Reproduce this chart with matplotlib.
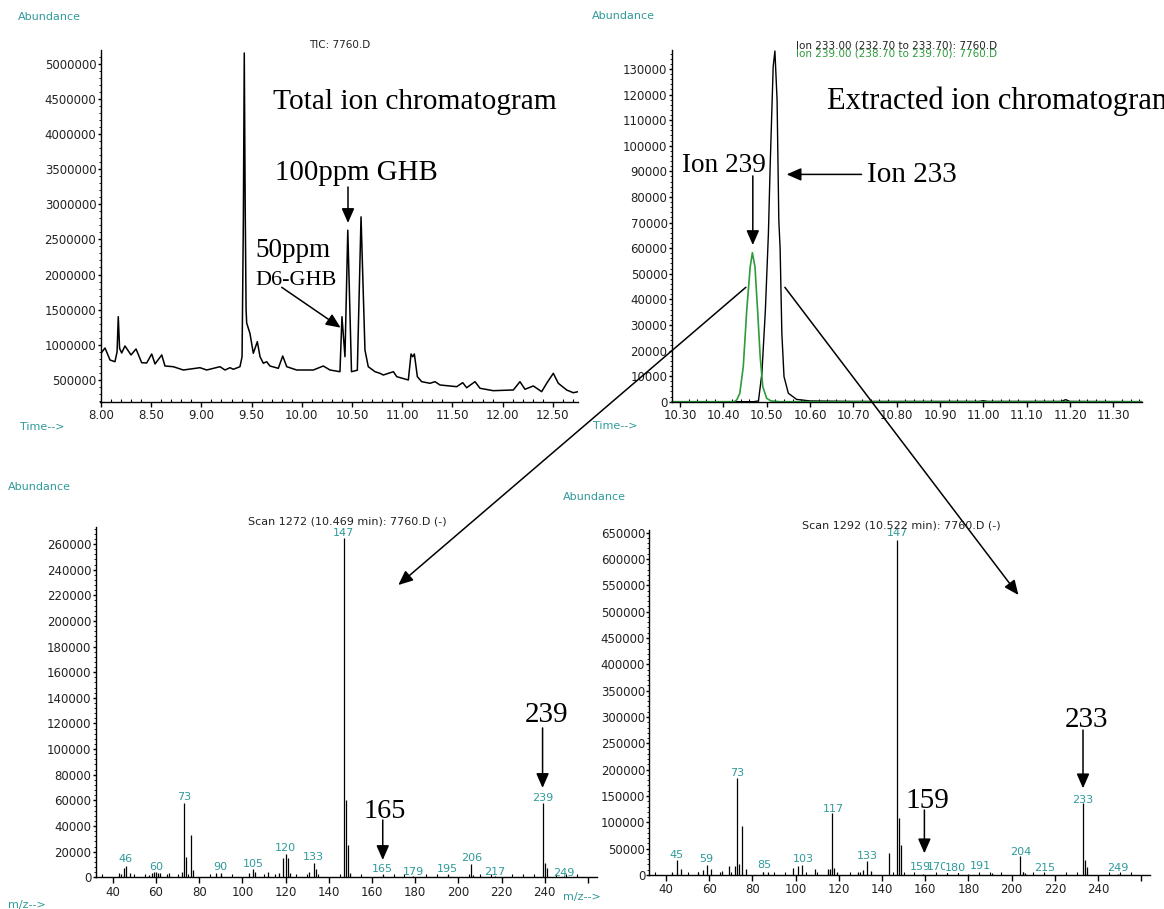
import matplotlib
matplotlib.use('Agg')
import matplotlib.pyplot as plt
from matplotlib.patches import ConnectionPatch
from matplotlib.ticker import MultipleLocator, FormatStrFormatter, FuncFormatter

# ---------------- data ----------------
tic_t = [8.000, 8.040, 8.090, 8.139, 8.160, 8.172, 8.185, 8.206, 8.239, 8.299, 8.349, 8.405,
         8.455, 8.505, 8.538, 8.605, 8.637, 8.720, 8.820, 8.986, 9.053, 9.185, 9.235, 9.285,
         9.318, 9.384, 9.405, 9.418, 9.427, 9.436, 9.445, 9.451, 9.484, 9.517, 9.557, 9.584,
         9.617, 9.650, 9.683, 9.766, 9.810, 9.850, 9.949, 10.115, 10.214, 10.281, 10.380,
         10.400, 10.430, 10.458, 10.495, 10.553, 10.590, 10.629, 10.662, 10.729, 10.779,
         10.812, 10.912, 10.946, 11.061, 11.088, 11.105, 11.121, 11.151, 11.194, 11.277,
         11.327, 11.376, 11.543, 11.603, 11.642, 11.725, 11.775, 11.907, 12.107, 12.173,
         12.223, 12.306, 12.389, 12.439, 12.505, 12.555, 12.638, 12.704, 12.754]
tic_ab = [880000, 955000, 784000, 760000, 900000, 1400000, 950000, 884000, 984000, 856000,
          941000, 746000, 742000, 870000, 728000, 856000, 699000, 689000, 642000, 675000,
          642000, 689000, 642000, 675000, 652000, 689000, 831000, 2800000, 5150000, 3000000,
          1500000, 1310000, 1160000, 880000, 1045000, 831000, 738000, 760000, 699000, 666000,
          841000, 689000, 642000, 642000, 699000, 642000, 618000, 1400000, 831000, 2630000,
          618000, 639000, 2820000, 927000, 689000, 618000, 595000, 571000, 618000, 547000,
          500000, 870000, 831000, 870000, 547000, 476000, 453000, 476000, 429000, 405000,
          462000, 390000, 476000, 382000, 348000, 358000, 476000, 368000, 415000, 334000,
          453000, 595000, 453000, 358000, 319000, 334000]

eic233_t = [10.281, 10.470, 10.481, 10.489, 10.497, 10.504, 10.508, 10.515, 10.519, 10.524,
            10.528, 10.531, 10.535, 10.540, 10.550, 10.569, 10.600, 10.700, 10.990, 11.000,
            11.010, 11.180, 11.190, 11.200, 11.365]
eic233_ab = [0, 0, 300, 11100, 35800, 65800, 91800, 130900, 137000, 117800, 70900, 60000,
             26700, 9800, 3300, 900, 300, 100, 100, 400, 100, 100, 800, 100, 0]
eic239_t = [10.281, 10.425, 10.431, 10.438, 10.446, 10.454, 10.462, 10.467, 10.473, 10.479,
            10.485, 10.491, 10.500, 10.510, 10.530, 11.365]
eic239_ab = [0, 0, 700, 3300, 13700, 35800, 52700, 58200, 52700, 35800, 17600, 5900, 1300,
             300, 0, 0]

ms1_mz = [43, 44, 45, 46, 48, 57, 58, 59, 60, 61, 62, 66, 72, 73, 74, 76, 77, 88, 90, 103,
          105, 106, 112, 117, 119, 120, 121, 122, 131, 133, 134, 147, 148, 149, 150, 165, 170,
          179, 195, 206, 207, 217, 239, 240, 241, 249]
ms1_ab = [3000, 2500, 7000, 8800, 3100, 2000, 3500, 4000, 4500, 3500, 3000, 3000, 4400, 58200,
          15600, 33000, 5700, 3000, 3000, 3600, 6200, 4400, 4400, 3000, 14800, 18200, 14800,
          3000, 4400, 10900, 6200, 264400, 60300, 25200, 3000, 1500, 1000, 1200, 1500, 10100,
          2000, 1200, 57700, 10900, 7000, 1200]
ms1_lbl = ['46', '60', '73', '90', '105', '120', '133', '147', '165', '179', '195', '206',
           '217', '239', '249']
ms1_lbl_x = [46, 60, 73, 90, 105, 120, 133, 147, 165, 179, 195, 206, 217, 239, 249]
ms1_lbl_y = [14000, 8300, 62400, 7800, 10400, 22600, 16100, 268800, 6200, 4400, 6200, 14800,
             4400, 62100, 3600]

ms2_mz = [43, 45, 47, 55, 57, 59, 61, 66, 69, 72, 73, 74, 75, 77, 85, 87, 99, 101, 103, 109,
          115, 116, 117, 118, 119, 129, 131, 133, 135, 143, 147, 148, 149, 159, 170, 180, 191,
          204, 205, 206, 215, 233, 234, 235, 249]
ms2_ab = [6300, 28500, 10800, 6300, 9500, 19000, 10800, 8000, 17100, 17100, 183600, 20300,
          93000, 10800, 6300, 5000, 12700, 17100, 19000, 10800, 10800, 12000, 117100, 12700,
          6300, 5000, 10000, 27200, 7000, 42400, 636000, 107700, 57000, 2500, 2000, 1500, 3500,
          36100, 5000, 3000, 1500, 136200, 28500, 15800, 1500]
ms2_lbl = ['45', '59', '73', '85', '103', '117', '133', '147', '159', '170', '180', '191',
           '204', '215', '233', '249']
ms2_lbl_x = [45, 58.8, 73, 85.3, 103.5, 117.4, 133, 147, 157.8, 165.4, 174.1, 185.6, 204.2,
             215.3, 233, 249.2]
ms2_lbl_y = [38000, 29800, 194300, 18400, 29800, 125300, 36700, 648900, 15200, 15200, 12700,
             16500, 44200, 12700, 142400, 13900]

# ---------------- layout ----------------
W, H = 1164, 909
plt.rcParams['font.family'] = ['DejaVu Sans']
fig = plt.figure(figsize=(W / 100, H / 100), dpi=100)
fig.patch.set_facecolor('white')

TEAL = '#2f9a9a'
GREEN = '#2e9b3c'
TXT = '#222222'
SERIF = ['Liberation Serif', 'DejaVu Serif']


def rect(l, t, r, b):
    return [l / W, 1 - b / H, (r - l) / W, (b - t) / H]


def ftext(x, y, s, **kw):
    fig.text(x / W, 1 - y / H, s, **kw)


def style(ax, xmaj, xmin, ymaj, ymin, xfmt):
    for s in ['top', 'right']:
        ax.spines[s].set_visible(False)
    for s in ['left', 'bottom']:
        ax.spines[s].set_linewidth(1.0)
    ax.xaxis.set_major_locator(MultipleLocator(xmaj))
    ax.xaxis.set_minor_locator(MultipleLocator(xmin))
    ax.yaxis.set_major_locator(MultipleLocator(ymaj))
    ax.yaxis.set_minor_locator(MultipleLocator(ymin))
    ax.xaxis.set_major_formatter(xfmt)
    ax.yaxis.set_major_formatter(FormatStrFormatter('%d'))
    ax.tick_params(axis='x', which='major', direction='out', length=3.5, width=1.0,
                   labelsize=8.5, pad=1.5, labelcolor=TXT)
    ax.tick_params(axis='x', which='minor', direction='in', length=2.5, width=0.8)
    ax.tick_params(axis='y', which='major', direction='out', length=2.5, width=1.0,
                   labelsize=8.5, pad=0.5, labelcolor=TXT)
    ax.tick_params(axis='y', which='minor', direction='out', length=1.8, width=0.6)
    ax.patch.set_alpha(0)


mz_fmt = FuncFormatter(lambda v, p: '' if v > 250 else '%d' % v)

arrow_kw = dict(arrowstyle='-|>,head_length=0.8,head_width=0.35', color='black', lw=1.1,
                mutation_scale=11, shrinkA=0, shrinkB=0)

# ---- TIC ----
ax1 = fig.add_axes(rect(100.5, 50, 578, 402))
ax1.plot(tic_t, tic_ab, color='black', lw=1.1)
ax1.set_xlim(7.995, 12.751)
ax1.set_ylim(187000, 5193000)
style(ax1, 0.5, 0.1, 500000, 100000, FormatStrFormatter('%.2f'))
ftext(18, 16.5, 'Abundance', color=TEAL, fontsize=8, va='center')
ftext(20, 427, 'Time-->', color=TEAL, fontsize=8, va='center')
ftext(340, 45, 'TIC: 7760.D', color=TXT, fontsize=7.5, ha='center', va='center')
ftext(273, 109, 'Total ion chromatogram', family=SERIF, fontsize=21.2, va='baseline')
ftext(275, 180, '100ppm GHB', family=SERIF, fontsize=20.8, va='baseline')
ftext(255, 257, '50ppm', family=SERIF, fontsize=19.5, va='baseline')
ftext(255, 285, 'D6-GHB', family=SERIF, fontsize=16, va='baseline')
ax1.annotate('', xy=(10.46, 2733000), xytext=(10.46, 3245000), arrowprops=arrow_kw,
             annotation_clip=False)
ax1.annotate('', xy=(10.387, 1244000), xytext=(9.800, 1818000), arrowprops=arrow_kw,
             annotation_clip=False)

# ---- EIC ----
ax2 = fig.add_axes(rect(671.7, 50, 1141.7, 401.7))
ax2.plot(eic233_t, eic233_ab, color='black', lw=1.0, clip_on=False)
ax2.plot(eic239_t, eic239_ab, color=GREEN, lw=1.2, clip_on=False)
ax2.set_xlim(10.2808, 11.3655)
ax2.set_ylim(0, 137400)
style(ax2, 0.1, 0.02, 10000, 2000, FormatStrFormatter('%.2f'))
ftext(592, 16, 'Abundance', color=TEAL, fontsize=8, va='center')
ftext(593, 426, 'Time-->', color=TEAL, fontsize=8, va='center')
ftext(796, 45, 'Ion 233.00 (232.70 to 233.70): 7760.D', color=TXT, fontsize=7.5, va='center')
ftext(796, 53.5, 'Ion 239.00 (238.70 to 239.70): 7760.D', color=GREEN, fontsize=7.5,
      va='center')
ftext(826.7, 109.5, 'Extracted ion chromatogram', family=SERIF, fontsize=22, va='baseline')
ftext(681.7, 172, 'Ion 239', family=SERIF, fontsize=19.6, va='baseline')
ftext(866.7, 182.5, 'Ion 233', family=SERIF, fontsize=21, va='baseline')
ax2.annotate('', xy=(10.468, 61200), xytext=(10.468, 88200), arrowprops=arrow_kw,
             annotation_clip=False)
ax2.annotate('', xy=(10.546, 88800), xytext=(10.719, 88800), arrowprops=arrow_kw,
             annotation_clip=False)

# ---- MS scan 1272 ----
ax3 = fig.add_axes(rect(95.7, 526.7, 597, 877.3))
ax3.vlines(ms1_mz, 0, ms1_ab, color='black', lw=0.9)
ax3.set_xlim(32.1, 264.2)
ax3.set_ylim(0, 273500)
style(ax3, 20, 5, 20000, 4000, mz_fmt)
ax3.tick_params(axis='x', which='major', length=4, pad=2)
for s, x, y in zip(ms1_lbl, ms1_lbl_x, ms1_lbl_y):
    ax3.text(x, y, s, color=TEAL, fontsize=8, ha='center', va='center', clip_on=False)
ftext(8, 487.5, 'Abundance', color=TEAL, fontsize=8, va='center')
ftext(8, 905, 'm/z-->', color=TEAL, fontsize=8, va='center')
ftext(347.5, 521.7, 'Scan 1272 (10.469 min): 7760.D (-)', color=TXT, fontsize=8,
      ha='center', va='center')
ftext(385, 818, '165', family=SERIF, fontsize=20.3, ha='center', va='baseline')
ftext(546.7, 721.7, '239', family=SERIF, fontsize=21, ha='center', va='baseline')
ax3.annotate('', xy=(165, 13500), xytext=(165, 44700), arrowprops=arrow_kw,
             annotation_clip=False)
ax3.annotate('', xy=(239, 69700), xytext=(239, 116500), arrowprops=arrow_kw,
             annotation_clip=False)

# ---- MS scan 1292 ----
ax4 = fig.add_axes(rect(649.3, 530, 1150, 875))
ax4.vlines(ms2_mz, 0, ms2_ab, color='black', lw=0.9)
ax4.set_xlim(32.3, 264.0)
ax4.set_ylim(0, 655100)
style(ax4, 20, 5, 50000, 10000, mz_fmt)
ax4.tick_params(axis='x', which='major', length=4, pad=2)
for s, x, y in zip(ms2_lbl, ms2_lbl_x, ms2_lbl_y):
    kw = {}
    if s == '180':
        kw['bbox'] = dict(facecolor='white', edgecolor='none', pad=0)
    ax4.text(x, y, s, color=TEAL, fontsize=8, ha='center', va='center', clip_on=False, **kw)
ftext(563, 496.7, 'Abundance', color=TEAL, fontsize=8, va='center')
ftext(563, 896.7, 'm/z-->', color=TEAL, fontsize=8, va='center')
ftext(901, 525, 'Scan 1292 (10.522 min): 7760.D (-)', color=TXT, fontsize=8,
      ha='center', va='center')
ftext(927.5, 808.3, '159', family=SERIF, fontsize=21, ha='center', va='baseline')
ftext(1086, 726.7, '233', family=SERIF, fontsize=21, ha='center', va='baseline')
ax4.annotate('', xy=(159.6, 41200), xytext=(159.6, 123400), arrowprops=arrow_kw,
             annotation_clip=False)
ax4.annotate('', xy=(233, 164600), xytext=(233, 275300), arrowprops=arrow_kw,
             annotation_clip=False)

# ---- connecting arrows EIC -> spectra ----
for (xa, ya), ax_b, (xb, yb) in [((10.452, 44700), ax3, (172.2, 228000)),
                                 ((10.542, 44700), ax4, (203.1, 531700))]:
    con = ConnectionPatch(xyA=(xa, ya), coordsA=ax2.transData, xyB=(xb, yb),
                          coordsB=ax_b.transData, **arrow_kw)
    con.set_clip_on(False)
    fig.add_artist(con)

fig.savefig('out.png', dpi=100, facecolor='white')
